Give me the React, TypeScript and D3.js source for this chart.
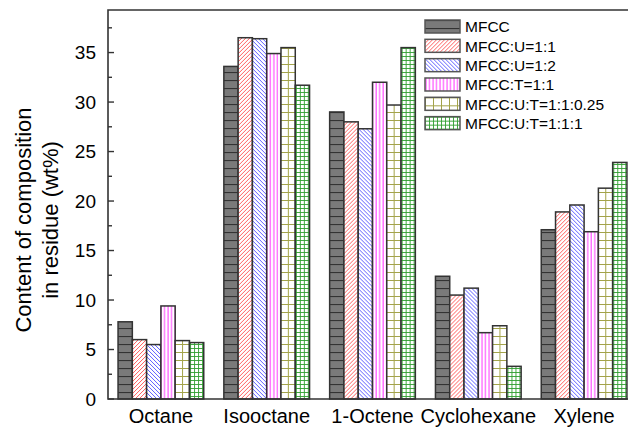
import React, { useEffect, useRef } from 'react';
import * as d3 from 'd3';

const categories = ['Octane', 'Isooctane', '1-Octene', 'Cyclohexane', 'Xylene'];
const seriesNames = [
  'MFCC',
  'MFCC:U=1:1',
  'MFCC:U=1:2',
  'MFCC:T=1:1',
  'MFCC:U:T=1:1:0.25',
  'MFCC:U:T=1:1:1',
];
// values per series, one per category
const mfcc = [7.8, 33.6, 29.0, 12.4, 17.1];
const mfccU11 = [6.0, 36.5, 28.0, 10.5, 18.9];
const mfccU12 = [5.5, 36.4, 27.3, 11.2, 19.6];
const mfccT11 = [9.4, 34.9, 32.0, 6.7, 16.9];
const mfccUT025 = [5.9, 35.5, 29.7, 7.4, 21.3];
const mfccUT1 = [5.7, 31.7, 35.5, 3.3, 23.9];
const seriesValues = [mfcc, mfccU11, mfccU12, mfccT11, mfccUT025, mfccUT1];
const yTicks = [0, 5, 10, 15, 20, 25, 30, 35];

const W = 628;
const H = 427;

const App: React.FC = () => {
  const svgRef = useRef<SVGSVGElement>(null);

  useEffect(() => {
    if (!svgRef.current) return;
    const svg = d3.select(svgRef.current);
    svg.selectAll('*').remove();

    const left = 108;
    const right = 637;
    const top = 10;
    const bottom = 399;
    const ink = '#333';
    const font = 'Liberation Sans, Arial, sans-serif';

    const x0 = d3
      .scaleBand<string>()
      .domain(categories)
      .range([left, right])
      .paddingInner(0.19)
      .paddingOuter(0.095);
    const x1 = d3
      .scaleBand<string>()
      .domain(seriesNames)
      .range([0, x0.bandwidth()]);
    const y = d3.scaleLinear().domain([0, 39.3]).range([bottom, top]);

    // Patterns
    const defs = svg.append('defs');
    const pat = (id: string, w: number, h: number) =>
      defs
        .append('pattern')
        .attr('id', id)
        .attr('patternUnits', 'userSpaceOnUse')
        .attr('width', w)
        .attr('height', h);

    const p0 = pat('p0', 8, 8);
    p0.append('rect').attr('width', 8).attr('height', 8).attr('fill', '#7a7a7a');
    p0.append('line').attr('x1', 0).attr('x2', 8).attr('y1', 0.5).attr('y2', 0.5)
      .attr('stroke', '#333').attr('stroke-width', 1.2);

    const p1 = pat('p1', 4, 4);
    p1.append('rect').attr('width', 4).attr('height', 4).attr('fill', '#fff');
    p1.append('path').attr('d', 'M-1,1 l2,-2 M0,4 l4,-4 M3,5 l2,-2')
      .attr('stroke', '#ff4d4d').attr('stroke-width', 0.9);

    const p2 = pat('p2', 4, 4);
    p2.append('rect').attr('width', 4).attr('height', 4).attr('fill', '#fff');
    p2.append('path').attr('d', 'M-1,3 l2,2 M0,0 l4,4 M3,-1 l2,2')
      .attr('stroke', '#4d4dff').attr('stroke-width', 0.9);

    const p3 = pat('p3', 3.5, 4);
    p3.append('rect').attr('width', 3.5).attr('height', 4).attr('fill', '#fff');
    p3.append('line').attr('x1', 1).attr('x2', 1).attr('y1', 0).attr('y2', 4)
      .attr('stroke', '#ff33ff').attr('stroke-width', 1);

    const p4 = pat('p4', 8, 8);
    p4.append('rect').attr('width', 8).attr('height', 8).attr('fill', '#fff');
    p4.append('path').attr('d', 'M0,0.5 H8 M0.5,0 V8')
      .attr('stroke', '#a3a34a').attr('stroke-width', 1);

    const p5 = pat('p5', 4, 4);
    p5.append('rect').attr('width', 4).attr('height', 4).attr('fill', '#fff');
    p5.append('path').attr('d', 'M0,0.5 H4 M0.5,0 V4')
      .attr('stroke', '#2f9e2f').attr('stroke-width', 0.9);

    const fills = ['url(#p0)', 'url(#p1)', 'url(#p2)', 'url(#p3)', 'url(#p4)', 'url(#p5)'];

    // Bars
    const groups = svg
      .append('g')
      .selectAll('g')
      .data(categories)
      .enter()
      .append('g')
      .attr('transform', (d) => `translate(${x0(d)},0)`);

    groups
      .selectAll('rect')
      .data((d, ci) => seriesNames.map((s, si) => ({ s, si, v: seriesValues[si][ci] })))
      .enter()
      .append('rect')
      .attr('x', (d) => x1(d.s) as number)
      .attr('y', (d) => y(d.v))
      .attr('width', x1.bandwidth())
      .attr('height', (d) => bottom - y(d.v))
      .attr('fill', (d) => fills[d.si])
      .attr('stroke', ink)
      .attr('stroke-width', 1.5);

    // Frame
    svg.append('path')
      .attr('d', `M${left},${top} H${right} V${bottom} H${left} Z`)
      .attr('fill', 'none')
      .attr('stroke', ink)
      .attr('stroke-width', 1.6);

    // Y ticks (inward)
    const minor = d3.range(2.5, 39.3, 5);
    svg.append('g').selectAll('line.major').data(yTicks).enter().append('line')
      .attr('x1', left).attr('x2', left + 6)
      .attr('y1', (d) => y(d)).attr('y2', (d) => y(d))
      .attr('stroke', ink).attr('stroke-width', 1.4);
    svg.append('g').selectAll('line.minor').data(minor).enter().append('line')
      .attr('x1', left).attr('x2', left + 4)
      .attr('y1', (d) => y(d)).attr('y2', (d) => y(d))
      .attr('stroke', ink).attr('stroke-width', 1.4);

    svg.append('g').selectAll('text').data(yTicks).enter().append('text')
      .attr('x', 96)
      .attr('y', (d) => y(d))
      .attr('dy', '0.36em')
      .attr('text-anchor', 'end')
      .style('font-family', font)
      .style('font-size', '19px')
      .text((d) => d);

    // X labels
    svg.append('g').selectAll('text').data(categories).enter().append('text')
      .attr('x', (d) => (x0(d) as number) + x0.bandwidth() / 2)
      .attr('y', 422.5)
      .attr('text-anchor', 'middle')
      .style('font-family', font)
      .style('font-size', '20px')
      .text((d) => d);

    // Y title
    const title = svg.append('text')
      .attr('transform', 'translate(0,220) rotate(-90)')
      .attr('text-anchor', 'middle')
      .style('font-family', font)
      .style('font-size', '22px');
    title.append('tspan').attr('x', 0).attr('y', 31).text('Content of composition');
    title.append('tspan').attr('x', 0).attr('y', 58).text('in residue (wt%)');

    // Legend
    const legend = svg.append('g').attr('transform', 'translate(425,20)');
    const item = legend.selectAll('g').data(seriesNames).enter().append('g')
      .attr('transform', (d, i) => `translate(0,${i * 19.33})`);
    item.append('rect')
      .attr('width', 35).attr('height', 13)
      .attr('fill', (d, i) => fills[i])
      .attr('stroke', '#555').attr('stroke-width', 1.5);
    item.append('text')
      .attr('x', 40).attr('y', 12.3)
      .style('font-family', font)
      .style('font-size', '15.5px')
      .text((d) => d);
  }, []);

  return (
    <svg
      ref={svgRef}
      width={W}
      height={H}
      style={{ position: 'absolute', left: 0, top: 0, background: '#fff' }}
    />
  );
};

export default App;
